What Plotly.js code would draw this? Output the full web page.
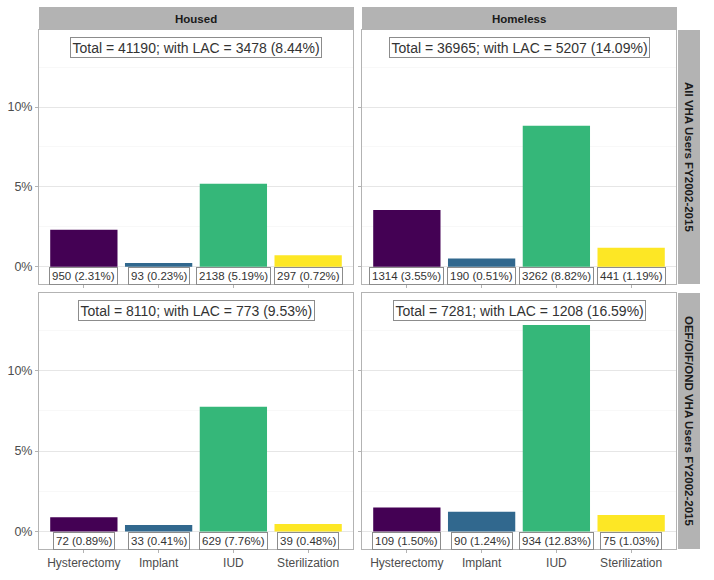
<!DOCTYPE html>
<html><head><meta charset="utf-8">
<script src="https://cdn.plot.ly/plotly-3.0.1.min.js"></script>
<style>html,body{margin:0;padding:0;background:#fff}</style>
</head><body><div id="chart" style="width:714px;height:580px"></div>
<script>
const categories = ["Hysterectomy", "Implant", "IUD", "Sterilization"];
const colors = ["#440154", "#31688E", "#35B779", "#FDE725"];
const colLabels = ["Housed", "Homeless"];
const rowLabels = ["All VHA Users FY2002-2015", "OEF/OIF/OND VHA Users FY2002-2015"];

const housedAllPct = [2.31, 0.23, 5.19, 0.72];
const housedAllN = [950, 93, 2138, 297];
const homelessAllPct = [3.55, 0.51, 8.82, 1.19];
const homelessAllN = [1314, 190, 3262, 441];
const housedOefPct = [0.89, 0.41, 7.76, 0.48];
const housedOefN = [72, 33, 629, 39];
const homelessOefPct = [1.50, 1.24, 12.83, 1.03];
const homelessOefN = [109, 90, 934, 75];

const totals = [41190, 36965, 8110, 7281];
const withLac = [3478, 5207, 773, 1208];
const withLacPct = [8.44, 14.09, 9.53, 16.59];

const W = 714, H = 580;
const px = v => v / W, py = v => 1 - v / H;
const colX = [[39, 353], [362, 676]];
const rowY = [[30, 284], [293, 549]];

const panels = [
  {pct: housedAllPct, n: housedAllN, r: 0, c: 0, ax: "3"},
  {pct: homelessAllPct, n: homelessAllN, r: 0, c: 1, ax: "4"},
  {pct: housedOefPct, n: housedOefN, r: 1, c: 0, ax: ""},
  {pct: homelessOefPct, n: homelessOefN, r: 1, c: 1, ax: "2"}
];

const data = [];
const annotations = [];
const shapes = [];
const layout = {
  width: W, height: H, margin: {l: 0, r: 0, t: 0, b: 0},
  paper_bgcolor: "#fff", plot_bgcolor: "#fff", showlegend: false,
  font: {family: "Liberation Sans, Arial, sans-serif", color: "#4d4d4d"},
  bargap: 0.1
};

panels.forEach((p, i) => {
  const xa = "x" + p.ax, ya = "y" + p.ax;
  data.push({
    type: "bar", x: categories, y: p.pct, xaxis: xa, yaxis: ya,
    marker: {color: colors, line: {width: 0}}, hoverinfo: "skip"
  });
  const xk = "xaxis" + p.ax, yk = "yaxis" + p.ax;
  layout[xk] = {
    domain: [px(colX[p.c][0]), px(colX[p.c][1])], anchor: ya,
    type: "category", categoryorder: "array", categoryarray: categories,
    range: [-0.6, 3.6], showgrid: false, zeroline: false,
    showline: true, mirror: true, linecolor: "#b3b3b3", linewidth: 1,
    ticks: "outside", ticklen: 3, tickcolor: "#b3b3b3",
    showticklabels: p.r === 1, tickfont: {size: 12, color: "#4d4d4d"}, fixedrange: true
  };
  layout[yk] = {
    domain: [py(rowY[p.r][1]), py(rowY[p.r][0])], anchor: xa,
    range: [-1.08, 14.82], tick0: 0, dtick: 5, ticksuffix: "%",
    showgrid: true, gridcolor: "#e6e6e6", gridwidth: 1, zeroline: false,
    minor: {dtick: 2.5, tick0: 0, showgrid: true, gridcolor: "#f3f3f3", gridwidth: 0.6, ticks: ""},
    showline: true, mirror: true, linecolor: "#b3b3b3", linewidth: 1,
    ticks: "outside", ticklen: 3, tickcolor: "#b3b3b3",
    showticklabels: p.c === 0, tickfont: {size: 12.5, color: "#4d4d4d"}, fixedrange: true
  };
  categories.forEach((cat, k) => {
    annotations.push({
      xref: xa, yref: ya, x: cat, y: 0, yanchor: "top", xanchor: "center",
      text: p.n[k] + " (" + p.pct[k].toFixed(2) + "%)", showarrow: false,
      font: {size: 11.5, color: "#333333"}, bgcolor: "#fff",
      bordercolor: "#8c8c8c", borderwidth: 1, borderpad: 2
    });
  });
  annotations.push({
    xref: xa + " domain", yref: ya, x: 0.5, y: 13.75, xanchor: "center", yanchor: "middle",
    text: "Total = " + totals[i] + "; with LAC = " + withLac[i] + " (" + withLacPct[i].toFixed(2) + "%)",
    showarrow: false, font: {size: 14, color: "#333333"}, bgcolor: "#fff",
    bordercolor: "#8c8c8c", borderwidth: 1, borderpad: 1.5
  });
});

// top strips
colLabels.forEach((lab, c) => {
  shapes.push({type: "rect", xref: "paper", yref: "paper",
    x0: px(colX[c][0]), x1: px(colX[c][1] + 1), y0: py(30), y1: py(7),
    fillcolor: "#b3b3b3", line: {width: 0}, layer: "below"});
  annotations.push({xref: "paper", yref: "paper", x: px((colX[c][0] + colX[c][1]) / 2), y: py(18.5),
    text: "<b>" + lab + "</b>", showarrow: false, xanchor: "center", yanchor: "middle",
    font: {size: 11.5, color: "#1a1a1a"}});
});
// right strips
rowLabels.forEach((lab, r) => {
  shapes.push({type: "rect", xref: "paper", yref: "paper",
    x0: px(678), x1: px(700), y0: py(rowY[r][1]), y1: py(rowY[r][0]),
    fillcolor: "#b3b3b3", line: {width: 0}, layer: "below"});
  annotations.push({xref: "paper", yref: "paper", x: px(689), y: py((rowY[r][0] + rowY[r][1]) / 2),
    text: "<b>" + lab + "</b>", showarrow: false, textangle: 90, xanchor: "center", yanchor: "middle",
    font: {size: 11.5, color: "#1a1a1a"}});
});

layout.annotations = annotations;
layout.shapes = shapes;
Plotly.newPlot("chart", data, layout, {displayModeBar: false, staticPlot: true});
</script></body></html>
